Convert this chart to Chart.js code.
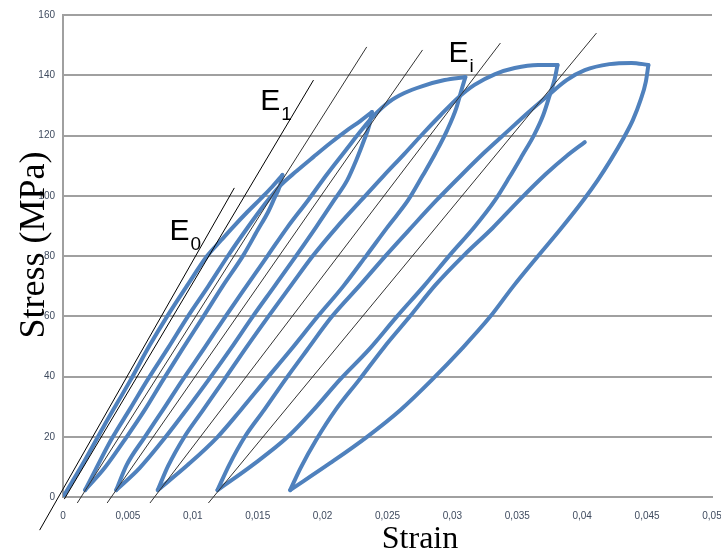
<!DOCTYPE html>
<html>
<head>
<meta charset="utf-8">
<script src="https://cdn.jsdelivr.net/npm/chart.js@4.4.1/dist/chart.umd.min.js"></script>
<style>
  html, body { margin: 0; padding: 0; background: #fff; }
</style>
</head>
<body>
<canvas id="chart" width="721" height="552"></canvas>
<script>
// ─── ticks ───
const strainTicks = [0, 0.005, 0.01, 0.015, 0.02, 0.025, 0.03, 0.035, 0.04, 0.045, 0.05];
const strainLabels = ["0", "0,005", "0,01", "0,015", "0,02", "0,025", "0,03", "0,035", "0,04", "0,045", "0,05"];
const stressTicks = [0, 20, 40, 60, 80, 100, 120, 140, 160];
const stressLabels = ["0", "20", "40", "60", "80", "100", "120", "140", "160"];

// ─── cyclic test curve, [strain, stress MPa] ───
const firstLoad = [[0, 0], [0.0007, 5.0], [0.0017, 12.3], [0.0032, 23.9], [0.0052, 38.8], [0.0067, 50.5], [0.0080, 59.8],
  [0.0096, 70.4], [0.0111, 80.0], [0.0122, 85.3], [0.0131, 89.6], [0.0142, 94.6], [0.0152, 98.9], [0.0161, 102.9], [0.0169, 106.9]];
const unload1 = [[0.0169, 106.9], [0.0167, 103.2], [0.0163, 99.3], [0.0158, 94.6], [0.0150, 88.6], [0.0139, 80.3], [0.0123, 70.0],
  [0.0108, 59.8], [0.0092, 49.1], [0.0077, 38.8], [0.0063, 28.9], [0.0049, 19.9], [0.0032, 9.6], [0.0017, 2.3]];
const reload1 = [[0.0017, 2.3], [0.0025, 9.0], [0.0037, 18.9], [0.0052, 29.5], [0.0065, 38.8], [0.0081, 49.5], [0.0096, 59.8],
  [0.0112, 70.0], [0.0127, 80.0], [0.0142, 89.3], [0.0155, 96.9], [0.0167, 103.2], [0.0180, 108.2], [0.0193, 112.9],
  [0.0206, 117.5], [0.0219, 121.8], [0.0229, 124.8], [0.0238, 127.8]];
const unload2 = [[0.0238, 127.8], [0.0236, 123.5], [0.0232, 118.5], [0.0226, 111.9], [0.0219, 105.2], [0.0209, 98.6],
  [0.0195, 89.6], [0.0180, 80.3], [0.0163, 70.0], [0.0146, 59.8], [0.0129, 49.1], [0.0112, 38.8], [0.0095, 28.9],
  [0.0079, 19.9], [0.0059, 9.6], [0.0041, 2.3]];
const reload2 = [[0.0041, 2.3], [0.0049, 10.6], [0.0063, 19.9], [0.0077, 28.9], [0.0092, 38.8], [0.0109, 49.5], [0.0125, 59.8],
  [0.0142, 70.4], [0.0158, 80.3], [0.0173, 89.6], [0.0189, 98.6], [0.0203, 106.9], [0.0218, 115.2], [0.0230, 121.8],
  [0.0240, 126.8], [0.0251, 131.1], [0.0263, 134.1], [0.0277, 136.4], [0.0294, 138.4], [0.0310, 139.4]];
const unload3 = [[0.0310, 139.4], [0.0307, 135.1], [0.0303, 129.1], [0.0296, 121.8], [0.0287, 114.2], [0.0277, 106.6],
  [0.0266, 98.6], [0.0250, 89.6], [0.0234, 80.3], [0.0216, 70.0], [0.0196, 59.8], [0.0176, 49.1], [0.0156, 38.8],
  [0.0137, 28.9], [0.0119, 19.9], [0.0096, 10.6], [0.0073, 2.3]];
const reload3 = [[0.0073, 2.3], [0.0081, 10.3], [0.0093, 19.6], [0.0108, 28.9], [0.0124, 38.8], [0.0141, 49.5], [0.0158, 59.8],
  [0.0176, 70.4], [0.0193, 80.3], [0.0211, 89.6], [0.0230, 98.6], [0.0247, 106.6], [0.0263, 113.9], [0.0277, 120.5],
  [0.0291, 126.8], [0.0304, 132.4], [0.0317, 136.8], [0.0333, 140.4], [0.0348, 142.4], [0.0366, 143.4], [0.0381, 143.4]];
const unload4 = [[0.0381, 143.4], [0.0379, 139.1], [0.0375, 133.4], [0.0370, 126.8], [0.0363, 120.2], [0.0354, 113.5],
  [0.0344, 106.2], [0.0333, 98.6], [0.0317, 89.6], [0.0298, 80.3], [0.0278, 70.0], [0.0257, 59.8], [0.0236, 49.1],
  [0.0213, 38.8], [0.0193, 28.9], [0.0173, 19.9], [0.0146, 10.6], [0.0119, 2.3]];
const reload4 = [[0.0119, 2.3], [0.0128, 10.6], [0.0140, 19.9], [0.0155, 28.9], [0.0171, 38.8], [0.0188, 48.8], [0.0207, 59.8],
  [0.0229, 70.4], [0.0249, 80.3], [0.0268, 89.3], [0.0288, 98.6], [0.0307, 106.9], [0.0325, 114.5], [0.0342, 121.2],
  [0.0358, 127.5], [0.0374, 133.4], [0.0388, 138.4], [0.0402, 141.7], [0.0421, 143.7], [0.0438, 144.1], [0.0451, 143.4]];
const unload5 = [[0.0451, 143.4], [0.0449, 137.8], [0.0445, 131.8], [0.0439, 125.1], [0.0431, 118.5], [0.0422, 111.9],
  [0.0412, 105.2], [0.0401, 98.6], [0.0384, 89.3], [0.0366, 80.0], [0.0347, 70.0], [0.0329, 59.8], [0.0307, 49.1],
  [0.0284, 38.8], [0.0260, 28.9], [0.0234, 19.9], [0.0206, 11.3], [0.0175, 2.3]];
const reload5 = [[0.0175, 2.3], [0.0183, 9.6], [0.0195, 18.9], [0.0210, 28.9], [0.0228, 38.8], [0.0247, 49.5], [0.0267, 59.8],
  [0.0287, 70.4], [0.0309, 80.3], [0.0331, 89.3], [0.0351, 98.3], [0.0372, 107.2], [0.0388, 113.2], [0.0402, 117.8]];

// ─── modulus lines (end points) ───
const lineE0 = [[-0.0018, -11.0], [0.0132, 102.6]];
const lineE1 = [[0.0001, -0.7], [0.0193, 138.4]];
const lineChord1 = [[0.0011, -2.0], [0.0234, 149.4]];
const lineChord2 = [[0.0034, -2.0], [0.0277, 148.4]];
const lineChord3 = [[0.0067, -2.0], [0.0337, 150.7]];
const lineChord4 = [[0.0112, -2.0], [0.0411, 154.0]];

const curveSegments = [firstLoad, unload1, reload1, unload2, reload2, unload3, reload3, unload4, reload4, unload5, reload5];
const moduliLines = [lineE0, lineE1, lineChord1, lineChord2, lineChord3, lineChord4];

const toXY = arr => arr.map(p => ({ x: p[0], y: p[1] }));

const datasets = [];
moduliLines.forEach((l, i) => {
  datasets.push({
    data: toXY(l), showLine: true, pointRadius: 0,
    borderColor: i < 2 ? "#000" : "#333", borderWidth: 1, clip: false, order: 0
  });
});
curveSegments.forEach(seg => {
  datasets.push({
    data: toXY(seg), showLine: true, pointRadius: 0, cubicInterpolationMode: "monotone",
    borderColor: "#4f81bd", borderWidth: 4, borderCapStyle: "round", borderJoinStyle: "round", order: 1
  });
});

// ─── axis titles + E labels ───
const textPlugin = {
  id: "texts",
  afterDraw(chart) {
    const { ctx, scales: { x, y } } = chart;
    ctx.save();
    ctx.fillStyle = "#000";
    ctx.textBaseline = "alphabetic";
    ctx.textAlign = "center";
    ctx.font = '32px "Liberation Serif"';
    ctx.fillText("Strain", 420, 548);
    ctx.save();
    ctx.translate(44, 245);
    ctx.rotate(-Math.PI / 2);
    ctx.font = '36px "Liberation Serif"';
    ctx.fillText("Stress (MPa)", 0, 0);
    ctx.restore();

    const marks = [["0", 0.0082, 85.3], ["1", 0.0152, 128.5], ["i", 0.0297, 144.4]];
    ctx.textAlign = "left";
    marks.forEach(([sub, sx, sy]) => {
      const px = x.getPixelForValue(sx), py = y.getPixelForValue(sy);
      ctx.font = '30px "Liberation Sans"';
      ctx.fillText("E", px, py);
      const w = ctx.measureText("E").width;
      ctx.font = '19px "Liberation Sans"';
      ctx.fillText(sub, px + w + 1, py + 10);
    });
    ctx.restore();
  }
};

const tickFont = { size: 10, family: '"Liberation Sans"' };

new Chart(document.getElementById("chart"), {
  type: "scatter",
  data: { datasets },
  options: {
    responsive: false,
    animation: false,
    devicePixelRatio: 1,
    layout: { padding: { top: 15, right: 9, left: 0, bottom: 0 } },
    plugins: { legend: { display: false }, tooltip: { enabled: false } },
    scales: {
      x: {
        type: "linear", min: 0, max: 0.05,
        afterBuildTicks: s => { s.ticks = strainTicks.map(v => ({ value: v })); },
        afterFit: s => { s.height = 55; s.paddingLeft = 0; s.paddingRight = 0; },
        ticks: { callback: (v, i) => strainLabels[i], padding: 13, font: tickFont, color: "#3f4b5f", maxRotation: 0, autoSkip: false },
        grid: { display: false, drawTicks: false },
        border: { display: true, color: "#a0a0a0", width: 2 }
      },
      y: {
        type: "linear", min: 0, max: 160,
        afterBuildTicks: s => { s.ticks = stressTicks.map(v => ({ value: v })); },
        afterFit: s => { s.width = 63; s.paddingTop = 0; s.paddingBottom = 0; },
        ticks: { callback: (v, i) => stressLabels[i], padding: 8, font: tickFont, color: "#3f4b5f", autoSkip: false },
        grid: { color: "#a0a0a0", lineWidth: 2, drawTicks: false },
        border: { display: true, color: "#a0a0a0", width: 2 }
      }
    }
  },
  plugins: [textPlugin]
});
</script>
</body>
</html>
